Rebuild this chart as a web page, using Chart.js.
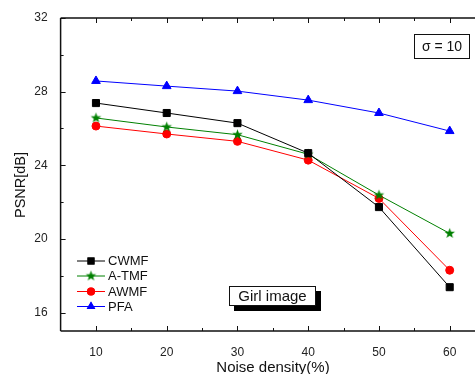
<!DOCTYPE html>
<html>
<head>
<meta charset="utf-8">
<script src="https://cdn.jsdelivr.net/npm/chart.js@4/dist/chart.umd.min.js"></script>
<style>
html, body { margin: 0; padding: 0; background: #fff; overflow: hidden; width: 475px; height: 374px; }
#wrap { position: absolute; left: 0; top: 0; width: 485px; height: 374px; }
</style>
</head>
<body>
<div id="wrap"><canvas id="psnrChart" width="485" height="374"></canvas></div>
<script>
var noiseDensity = [10, 20, 30, 40, 50, 60];
var cwmf = [27.38, 26.84, 26.29, 24.66, 21.73, 17.38];
var atmf = [26.57, 26.08, 25.66, 24.6, 22.38, 20.3];
var awmf = [26.13, 25.7, 25.3, 24.28, 22.2, 18.3];
var pfa = [28.58, 28.3, 28.03, 27.54, 26.84, 25.86];
var yTicks = [16, 20, 24, 28, 32];
var xTicks = [10, 20, 30, 40, 50, 60];

var font = '"Liberation Sans", Arial, sans-serif';

function makeStar(color, r){
    var c = document.createElement('canvas');
    var s = Math.ceil(r * 2 + 2);
    c.width = s; c.height = s;
    var ctx = c.getContext('2d');
    ctx.fillStyle = color;
    ctx.beginPath();
    for (let i = 0; i < 10; i++) {
        let rad = i % 2 == 0 ? r : r * 0.42;
        let a = -Math.PI / 2 + i * Math.PI / 5;
        let x = s / 2 + rad * Math.cos(a);
        let y = s / 2 + rad * Math.sin(a);
        if (i == 0) ctx.moveTo(x, y); else ctx.lineTo(x, y);
    }
    ctx.closePath();
    ctx.fill();
    return c;
}
var starImg = makeStar('#008000', 5.5);

function toPoints(arr){
    return arr.map(function(v, i){ return {x: noiseDensity[i], y: v}; });
}

const data = {
    datasets: [{
        label: 'CWMF',
        data: toPoints(cwmf),
        borderColor: '#000000',
        backgroundColor: '#000000',
        pointStyle: 'rect',
        pointRadius: 5,
        borderWidth: 1
    },
    {
        label: 'A-TMF',
        data: toPoints(atmf),
        borderColor: '#008000',
        backgroundColor: '#008000',
        pointStyle: starImg,
        borderWidth: 1
    },
    {
        label: 'AWMF',
        data: toPoints(awmf),
        borderColor: '#ff0000',
        backgroundColor: '#ff0000',
        pointStyle: 'circle',
        pointRadius: 4,
        borderWidth: 1
    },
    {
        label: 'PFA',
        data: toPoints(pfa),
        borderColor: '#0000ff',
        backgroundColor: '#0000ff',
        pointStyle: 'triangle',
        pointRadius: 5,
        borderWidth: 1
    }]
};

// frame, inward ticks, titles, legend and text boxes
const decorations = {
    id: 'decorations',
    afterDraw: function(chart){
        const ctx = chart.ctx;
        const a = chart.chartArea;
        const xs = chart.scales.x;
        const ys = chart.scales.y;
        ctx.save();
        ctx.strokeStyle = '#111';
        ctx.lineWidth = 1.5;
        ctx.beginPath();
        ctx.moveTo(a.left, a.top); ctx.lineTo(a.right, a.top);
        ctx.moveTo(a.left, a.top); ctx.lineTo(a.left, a.bottom);
        ctx.moveTo(a.left, a.bottom); ctx.lineTo(a.right, a.bottom);
        ctx.moveTo(a.right, a.top); ctx.lineTo(a.right, a.bottom);
        ctx.stroke();

        ctx.lineWidth = 1;
        ctx.beginPath();
        for (let v = 10; v <= 60; v += 5) {
            let px = Math.round(xs.getPixelForValue(v)) + 0.5;
            let len = v % 10 == 0 ? 5 : 3;
            ctx.moveTo(px, a.bottom); ctx.lineTo(px, a.bottom - len);
            ctx.moveTo(px, a.top); ctx.lineTo(px, a.top + len);
        }
        for (let v = 16; v <= 32; v += 2) {
            let py = Math.round(ys.getPixelForValue(v)) + 0.5;
            let len = v % 4 == 0 ? 5 : 3;
            ctx.moveTo(a.left, py); ctx.lineTo(a.left + len, py);
        }
        ctx.stroke();

        // axis titles
        ctx.fillStyle = '#111';
        ctx.font = '15px ' + font;
        ctx.textAlign = 'center';
        ctx.textBaseline = 'middle';
        ctx.fillText('Noise density(%)', 273, 368);
        ctx.save();
        ctx.translate(21, 185);
        ctx.rotate(-Math.PI / 2);
        ctx.font = '14.5px ' + font;
        ctx.fillText('PSNR[dB]', 0, 0);
        ctx.restore();

        // legend
        const rows = [261, 276, 291.5, 306.5];
        ctx.font = '13px ' + font;
        ctx.textAlign = 'left';
        chart.data.datasets.forEach(function(ds, i){
            let y = rows[i];
            ctx.strokeStyle = ds.borderColor;
            ctx.lineWidth = 1;
            ctx.beginPath();
            ctx.moveTo(77, y); ctx.lineTo(105, y);
            ctx.stroke();
            if (ds.pointStyle instanceof HTMLCanvasElement) {
                ctx.drawImage(ds.pointStyle, 91 - ds.pointStyle.width / 2, y - ds.pointStyle.height / 2);
            } else {
                ctx.fillStyle = ds.backgroundColor;
                Chart.helpers.drawPoint(ctx, {pointStyle: ds.pointStyle, radius: ds.pointRadius, borderWidth: 0}, 91, y);
                ctx.fill();
            }
            ctx.fillStyle = '#111';
            ctx.fillText(ds.label, 108, y + 0.5);
        });

        // Girl image box with shadow
        ctx.fillStyle = '#000';
        ctx.fillRect(234, 291, 87, 20);
        ctx.fillStyle = '#fff';
        ctx.fillRect(229.5, 286.5, 86, 19);
        ctx.strokeStyle = '#111';
        ctx.lineWidth = 1;
        ctx.strokeRect(229.5, 286.5, 86, 19);
        ctx.fillStyle = '#111';
        ctx.font = '15px ' + font;
        ctx.textAlign = 'center';
        ctx.fillText('Girl image', 272.5, 296.5);

        // sigma box
        ctx.font = '14px ' + font;
        ctx.strokeStyle = '#111';
        ctx.strokeRect(414.5, 34.5, 55, 24);
        ctx.fillText('\u03c3 = 10', 442, 47);
        ctx.restore();
    }
};

const config = {
    type: 'line',
    data: data,
    options: {
        responsive: false,
        animation: false,
        layout: { padding: { top: 18, right: 7, left: 0, bottom: 0 } },
        plugins: {
            legend: { display: false },
            tooltip: { enabled: false }
        },
        scales: {
            x: {
                type: 'linear',
                min: 5,
                max: 64,
                grid: { display: false },
                border: { display: false },
                afterBuildTicks: function(scale){
                    scale.ticks = xTicks.map(function(v){ return {value: v}; });
                },
                afterFit: function(scale){ scale.height = 43; },
                ticks: {
                    color: '#222',
                    padding: 6,
                    font: { family: font, size: 12 }
                }
            },
            y: {
                min: 15,
                max: 32,
                grid: { display: false },
                border: { display: false },
                afterBuildTicks: function(scale){
                    scale.ticks = yTicks.map(function(v){ return {value: v}; });
                },
                afterFit: function(scale){ scale.width = 60.6; },
                ticks: {
                    color: '#222',
                    padding: 5,
                    font: { family: font, size: 12 }
                }
            }
        }
    },
    plugins: [decorations]
};

var psnrChart = new Chart(document.getElementById('psnrChart'), config);
</script>
</body>
</html>
